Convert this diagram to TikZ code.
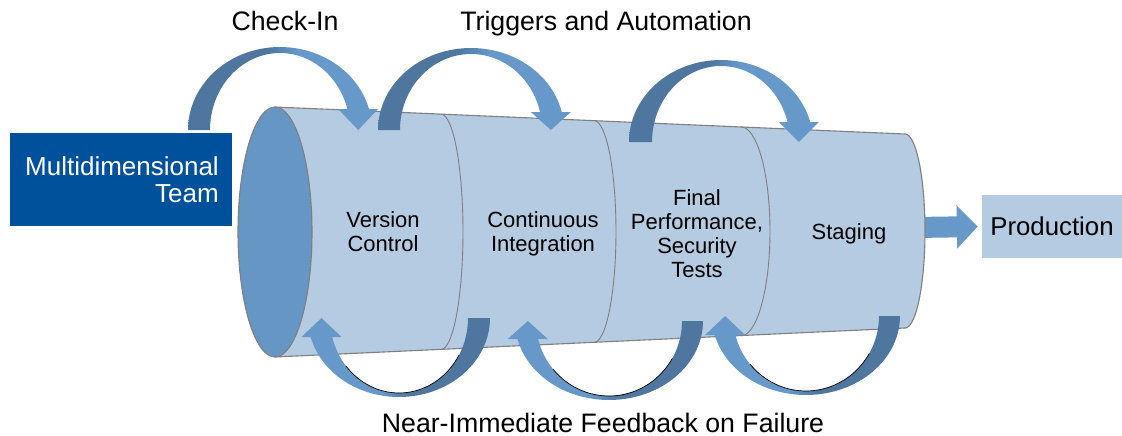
\documentclass[tikz,border=0pt]{standalone}
\usepackage{fontspec}
\setmainfont{Liberation Sans}
\usetikzlibrary{arrows.meta}

\definecolor{teamblue}{HTML}{00519B}
\definecolor{tubelight}{HTML}{B4CBE1}
\definecolor{tubeend}{HTML}{6596C4}
\definecolor{arrdark}{HTML}{4E769F}
\definecolor{arrlight}{HTML}{6699C9}
\definecolor{rimgray}{HTML}{808080}

% two-tone fills for the bent arrows (path spans 25bp..75bp)
\pgfdeclarehorizontalshading{darktolight}{100bp}{color(0bp)=(arrdark); color(46bp)=(arrdark); color(54bp)=(arrlight); color(100bp)=(arrlight)}
\pgfdeclarehorizontalshading{lighttodark}{100bp}{color(0bp)=(arrlight); color(46bp)=(arrlight); color(54bp)=(arrdark); color(100bp)=(arrdark)}

% Bent block arrow built from an outer and an inner half ellipse.
% #1 orientation (1 = arching over the top, -1 = hanging underneath),
% #2 centre x, #3 foot y, #4/#5 outer radii, #6/#7 inner radii,
% #8 height of the arrow-head base above the foot line
\newcommand\bendarrow[8]{%
  \pgfmathsetmacro\bao{asin(#8/#5)}%
  \pgfmathsetmacro\bai{asin(#8/#7)}%
  \pgfmathsetmacro\bxo{#2+#1*#4*cos(\bao)}%
  \pgfmathsetmacro\bxi{#2+#1*#6*cos(\bai)}%
  \pgfmathsetmacro\bhx{(\bxo+\bxi)/2}%
  \pgfmathsetmacro\bhy{#3-#1*#8}%
  \ifdim #1pt>0pt \def\bshade{darktolight}\else\def\bshade{lighttodark}\fi
  \shade[shading=\bshade]
    ({#2-#1*#4},#3)
    -- plot[domain=180:\bao, samples=60] ({#2+#1*#4*cos(\x)},{#3-#1*#5*sin(\x)})
    -- ({\bhx+#1*20},\bhy) -- (\bhx,#3) -- ({\bhx-#1*20},\bhy)
    -- plot[domain=\bai:180, samples=60] ({#2+#1*#6*cos(\x)},{#3-#1*#7*sin(\x)})
    -- cycle;
}
% dark rim along the inner edge of a hanging arrow
\newcommand\underrim[4]{%
  \draw[black, line width=0.7pt]
    plot[domain=40:150, samples=40] ({#1-#3*cos(\x)},{#2+#4*sin(\x)});
}

\tikzset{
  title/.style={font=\fontsize{26.7}{28}\selectfont, inner sep=0pt},
  stage/.style={font=\fontsize{22}{24}\selectfont, align=center, inner sep=0pt},
  rim/.style={draw=rimgray, line width=1.1pt},
  divider/.style={draw=rimgray, line width=0.9pt},
}

\begin{document}
\begin{tikzpicture}[x=1pt, y=-1pt]
  \useasboundingbox (0,0) rectangle (1122,436);

  % boxes at both ends of the pipeline
  \node[fill=teamblue, text=white, minimum width=222.4pt, minimum height=93pt,
        text width=196pt, inner xsep=13.2pt, align=right,
        font=\fontsize{26}{27}\selectfont] (team) at (120.8,179.5) {Multidimensional\\Team};
  \node[fill=tubelight, minimum width=140pt, minimum height=63pt, inner sep=0pt,
        font=\fontsize{25.8}{27}\selectfont] (prod) at (1052,226.5) {Production};

  % hand-off to production
  \coordinate (tubeout) at (915,227.5);
  \draw[arrlight, line width=21pt, -{Triangle[length=21pt, width=42pt]}, shorten >=4pt]
    (tubeout) -- (prod.west);

  % tapering tube
  \fill[tubelight] (275,107) -- (905,134)
    -- plot[domain=90:-90, samples=50] ({905+20*cos(\x)},{231-97*sin(\x)})
    -- (275,357) -- cycle;
  \draw[rim] (275,107) -- (905,134)
    plot[domain=90:-90, samples=50] ({905+20*cos(\x)},{231-97*sin(\x)})
    -- (275,357);
  % section boundaries
  \draw[divider] plot[domain=90:-90, samples=50] ({441+22*cos(\x)},{231.8-117.6*sin(\x)});
  \draw[divider] plot[domain=90:-90, samples=50] ({594+22*cos(\x)},{231.5-110.9*sin(\x)});
  \draw[divider] plot[domain=90:-90, samples=50] ({741+29*cos(\x)},{231.3-104.4*sin(\x)});
  % open end
  \filldraw[fill=tubeend, rim] (275,232) ellipse [x radius=37, y radius=125];

  % stage labels
  \node[stage] (vc) at (383,232) {Version\\Control};
  \node[stage] (ci) at (543,234) {Continuous\\Integration};
  \node[stage] (fp) at (697,234) {Final\\Performance,\\Security\\Tests};
  \node[stage] (stg) at (849,234) {Staging};

  % forward arrows over the tube
  \bendarrow{1}{280}{130}{92}{83}{70}{77}{21}
  \bendarrow{1}{471}{130}{93}{82}{71}{76}{18}
  \bendarrow{1}{721}{142}{92}{82}{69}{76}{20}

  % feedback arrows under the tube
  \bendarrow{-1}{399}{318}{91}{79}{69}{75}{19}
  \underrim{399}{318}{69}{75}
  \bendarrow{-1}{609}{321}{94}{79}{73}{75}{18}
  \underrim{609}{321}{73}{75}
  \bendarrow{-1}{806}{316}{94}{79}{73}{75}{19}
  \underrim{806}{316}{73}{75}

  % captions
  \node[title, anchor=base] (checkin) at (285,31) {Check-In};
  \node[title, anchor=base] (triggers) at (606,31) {Triggers and Automation};
  \node[title, anchor=base] (feedback) at (603,432) {Near-Immediate Feedback on Failure};
\end{tikzpicture}
\end{document}
